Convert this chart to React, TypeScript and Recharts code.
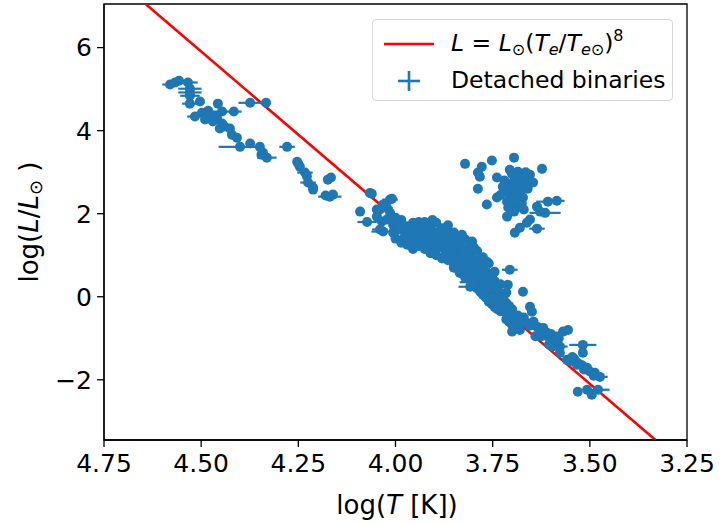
import React from "react";
import {
  ScatterChart,
  Scatter,
  XAxis,
  YAxis,
  ErrorBar,
  ReferenceLine,
  ReferenceArea,
  Label,
} from "recharts";

// [log T, log L, error in log T]
type Star = [number, number, number];

const hotBranch: Star[] = [
  [4.580, 5.11, 0.02], [4.567, 5.16, 0.01], [4.557, 5.20, 0.01], [4.534, 5.16, 0.025],
  [4.529, 5.01, 0.03], [4.529, 4.92, 0.03], [4.529, 4.84, 0.025], [4.503, 4.70, 0.01],
  [4.529, 4.65, 0.02], [4.457, 4.65, 0.01], [4.482, 4.48, 0.01], [4.446, 4.46, 0.05],
  [4.416, 4.46, 0.01], [4.498, 4.43, 0.01], [4.516, 4.34, 0.02], [4.480, 4.34, 0.01],
  [4.459, 4.29, 0.01], [4.490, 4.27, 0.01], [4.446, 4.17, 0.01], [4.470, 4.22, 0.01],
  [4.452, 4.05, 0.01], [4.426, 4.05, 0.01], [4.421, 3.90, 0.01], [4.408, 3.83, 0.01],
  [4.374, 4.67, 0.03], [4.333, 4.67, 0.01], [4.400, 3.61, 0.055], [4.374, 3.69, 0.01],
  [4.349, 3.61, 0.01], [4.341, 3.47, 0.01], [4.331, 3.35, 0.025], [4.345, 3.42, 0.01],
  [4.279, 3.61, 0.02], [4.253, 3.25, 0.01], [4.246, 3.13, 0.01], [4.233, 2.99, 0.02],
  [4.225, 2.75, 0.02], [4.212, 2.63, 0.01], [4.228, 2.90, 0.01], [4.174, 2.82, 0.01],
  [4.166, 2.87, 0.01], [4.169, 2.41, 0.03], [4.161, 2.46, 0.01], [4.180, 2.44, 0.01],
  [4.250, 3.20, 0.01], [4.212, 2.58, 0.01], [4.440, 4.10, 0.01], [4.462, 4.36, 0.01],
];

const upperMainSeq: Star[] = [
  [4.066, 2.50, 0.01], [4.061, 2.48, 0.01], [4.014, 2.34, 0.02], [4.009, 2.36, 0.01],
  [4.032, 2.22, 0.01], [4.048, 2.10, 0.01], [4.022, 2.14, 0.015], [4.014, 2.02, 0.01],
  [4.091, 2.05, 0.01], [4.040, 2.10, 0.02], [4.048, 1.93, 0.01], [4.073, 1.80, 0.025],
  [4.035, 1.81, 0.01], [4.022, 1.86, 0.01], [4.006, 1.73, 0.01], [4.032, 1.57, 0.03],
  [4.006, 1.54, 0.01], [3.996, 1.60, 0.01], [4.040, 1.62, 0.02], [4.000, 1.90, 0.01],
];

const coreMainSeq: Star[] = [
  [4.000, 1.75, 0.01], [4.000, 1.40, 0.01], [3.985, 1.85, 0.01], [3.985, 1.62, 0.03],
  [3.985, 1.30, 0.01], [3.970, 1.70, 0.01], [3.970, 1.50, 0.01], [3.970, 1.25, 0.01],
  [3.955, 1.78, 0.01], [3.955, 1.55, 0.01], [3.955, 1.35, 0.02], [3.955, 1.15, 0.01],
  [3.940, 1.68, 0.01], [3.940, 1.45, 0.01], [3.940, 1.22, 0.01], [3.925, 1.80, 0.02],
  [3.925, 1.58, 0.01], [3.925, 1.35, 0.01], [3.925, 1.15, 0.01], [3.910, 1.70, 0.01],
  [3.910, 1.48, 0.01], [3.910, 1.25, 0.01], [3.910, 1.05, 0.01], [3.895, 1.78, 0.01],
  [3.895, 1.55, 0.01], [3.895, 1.32, 0.01], [3.895, 1.00, 0.01], [3.880, 1.65, 0.01],
  [3.880, 1.42, 0.01], [3.880, 1.18, 0.01], [3.880, 0.92, 0.01], [3.865, 1.72, 0.01],
  [3.865, 1.50, 0.01], [3.865, 1.28, 0.01], [3.865, 1.05, 0.01], [3.865, 0.88, 0.01],
  [3.850, 1.55, 0.01], [3.850, 1.35, 0.01], [3.850, 1.10, 0.01], [3.850, 0.85, 0.01],
  [3.850, 0.70, 0.01], [3.835, 1.45, 0.01], [3.835, 1.22, 0.01], [3.835, 1.00, 0.01],
  [3.835, 0.75, 0.01], [3.835, 0.58, 0.01], [3.820, 1.38, 0.01], [3.820, 1.15, 0.01],
  [3.820, 0.92, 0.01], [3.820, 0.68, 0.01], [3.820, 0.45, 0.01], [3.805, 1.30, 0.01],
  [3.805, 1.05, 0.01], [3.805, 0.82, 0.01], [3.805, 0.58, 0.01], [3.805, 0.35, 0.03],
  [3.790, 1.10, 0.01], [3.790, 0.88, 0.01], [3.790, 0.65, 0.01], [3.790, 0.42, 0.01],
  [3.790, 0.20, 0.01], [3.775, 0.95, 0.01], [3.775, 0.72, 0.01], [3.775, 0.50, 0.01],
  [3.775, 0.28, 0.01], [3.775, 0.05, 0.01], [3.760, 0.80, 0.01], [3.760, 0.55, 0.01],
  [3.760, 0.32, 0.01], [3.760, 0.10, 0.01], [3.760, -0.12, 0.01], [3.745, 0.60, 0.01],
  [3.745, 0.38, 0.01], [3.745, 0.15, 0.01], [3.745, -0.08, 0.01], [3.745, -0.25, 0.01],
  [3.730, 0.30, 0.01], [3.730, 0.08, 0.01], [3.730, -0.15, 0.01], [3.730, -0.35, 0.01],
  [3.715, 0.10, 0.01], [3.715, -0.15, 0.01], [3.715, -0.40, 0.01], [3.715, -0.55, 0.01],
  [3.700, -0.30, 0.01], [3.700, -0.50, 0.01], [3.700, -0.68, 0.01], [3.685, -0.45, 0.01],
  [3.685, -0.62, 0.01], [3.855, 1.49, 0.01], [3.829, 1.49, 0.01], [3.803, 1.33, 0.01],
  [3.706, 0.65, 0.02], [3.711, 0.29, 0.01], [3.672, 0.12, 0.01], [3.765, 0.84, 0.01],
  [3.960, 1.57, 0.03], [3.808, 0.24, 0.03],
];

// extra stars packed between the rows above
const coreFill: Star[] = [
  [3.992, 1.65, 0.01], [3.978, 1.42, 0.01], [3.962, 1.68, 0.01], [3.948, 1.30, 0.01],
  [3.932, 1.50, 0.01], [3.918, 1.62, 0.01], [3.918, 1.36, 0.01], [3.902, 1.12, 0.01],
  [3.888, 1.50, 0.01], [3.888, 1.28, 0.01], [3.872, 1.60, 0.01], [3.872, 1.00, 0.01],
  [3.858, 1.20, 0.01], [3.858, 0.95, 0.01], [3.842, 1.30, 0.01], [3.842, 0.88, 0.01],
  [3.828, 1.08, 0.01], [3.828, 0.80, 0.01], [3.828, 0.55, 0.01], [3.812, 0.95, 0.01],
  [3.812, 0.70, 0.01], [3.812, 0.48, 0.01], [3.798, 1.18, 0.01], [3.798, 0.75, 0.01],
  [3.798, 0.30, 0.01], [3.782, 0.82, 0.01], [3.782, 0.58, 0.01], [3.782, 0.12, 0.01],
  [3.768, 0.62, 0.01], [3.768, 0.40, 0.01], [3.768, -0.02, 0.01], [3.752, 0.48, 0.01],
  [3.752, 0.22, 0.01], [3.752, -0.18, 0.01], [3.738, 0.20, 0.01], [3.738, -0.02, 0.01],
  [3.738, -0.30, 0.01], [3.722, 0.00, 0.01], [3.722, -0.28, 0.01], [3.708, -0.22, 0.01],
  [3.708, -0.60, 0.01], [3.692, -0.55, 0.01], [3.940, 1.80, 0.01], [3.905, 1.85, 0.01],
];

const lowerMainSeq: Star[] = [
  [3.654, -0.24, 0.01], [3.649, -0.36, 0.01], [3.662, -0.63, 0.01], [3.636, -0.72, 0.01],
  [3.621, -0.87, 0.01], [3.597, -1.04, 0.01], [3.569, -0.84, 0.01], [3.556, -0.80, 0.01],
  [3.577, -1.20, 0.02], [3.559, -1.52, 0.01], [3.518, -1.16, 0.035], [3.518, -1.35, 0.01],
  [3.533, -1.64, 0.01], [3.507, -1.71, 0.01], [3.487, -1.83, 0.01], [3.474, -1.93, 0.02],
  [3.531, -2.29, 0.01], [3.507, -2.24, 0.01], [3.495, -2.36, 0.01], [3.479, -2.24, 0.03],
  [3.687, -0.63, 0.01], [3.700, -0.84, 0.01], [3.680, -0.80, 0.01], [3.610, -0.87, 0.01],
  [3.585, -0.96, 0.01], [3.595, -1.20, 0.01], [3.577, -1.35, 0.01], [3.630, -0.80, 0.01],
  [3.610, -0.95, 0.01], [3.600, -0.90, 0.01], [3.590, -1.10, 0.01], [3.580, -1.00, 0.01],
  [3.620, -0.75, 0.01], [3.645, -0.60, 0.01], [3.655, -0.70, 0.01], [3.625, -0.95, 0.01],
  [3.605, -1.15, 0.01], [3.550, -1.55, 0.01], [3.540, -1.50, 0.01], [3.530, -1.60, 0.01],
  [3.520, -1.65, 0.01], [3.515, -1.75, 0.01], [3.500, -1.80, 0.01], [3.490, -1.90, 0.01],
  [3.545, -1.45, 0.01], [3.670, -0.50, 0.01], [3.640, -0.95, 0.01],
];

const giants: Star[] = [
  [3.821, 3.20, 0.01], [3.778, 3.13, 0.01], [3.752, 3.28, 0.01], [3.695, 3.35, 0.01],
  [3.788, 2.99, 0.01], [3.783, 2.89, 0.01], [3.739, 2.87, 0.01], [3.706, 3.06, 0.01],
  [3.685, 3.01, 0.01], [3.654, 2.94, 0.01], [3.623, 3.08, 0.01], [3.698, 2.75, 0.01],
  [3.662, 2.77, 0.01], [3.646, 2.75, 0.01], [3.788, 2.60, 0.01], [3.724, 2.65, 0.01],
  [3.739, 2.39, 0.01], [3.765, 2.22, 0.01], [3.706, 2.46, 0.01], [3.687, 2.51, 0.01],
  [3.672, 2.39, 0.01], [3.713, 2.29, 0.01], [3.698, 2.22, 0.01], [3.680, 2.17, 0.01],
  [3.713, 1.93, 0.01], [3.636, 2.17, 0.01], [3.608, 2.29, 0.03], [3.585, 2.31, 0.02],
  [3.628, 2.05, 0.01], [3.615, 2.02, 0.04], [3.654, 1.86, 0.01], [3.662, 1.78, 0.01],
  [3.680, 1.66, 0.01], [3.693, 1.54, 0.01], [3.636, 1.64, 0.02], [3.720, 2.55, 0.01],
  [3.710, 2.70, 0.01], [3.700, 2.60, 0.01], [3.690, 2.85, 0.01], [3.680, 2.70, 0.01],
  [3.675, 2.90, 0.01], [3.665, 3.00, 0.01], [3.730, 2.45, 0.01], [3.720, 2.80, 0.01],
  [3.700, 2.95, 0.01], [3.690, 2.40, 0.01], [3.680, 2.55, 0.01], [3.660, 2.60, 0.01],
  [3.700, 2.35, 0.01], [3.710, 2.15, 0.01], [3.695, 2.05, 0.01], [3.675, 2.25, 0.01],
  [3.670, 2.10, 0.01],
];

// L = Lsun (Te/Tesun)^8 drawn between the plot edges
const modelLogT = [4.643, 3.331];
const modelLogL = [7.05, -3.45];

const xTicks = [4.75, 4.5, 4.25, 4.0, 3.75, 3.5, 3.25];
const yTicks = [-2, 0, 2, 4, 6];

const BLUE = "#1f77b4";
const RED = "#ff0000";
const FONT = "'DejaVu Sans', sans-serif";

const stars = [...hotBranch, ...upperMainSeq, ...coreMainSeq, ...coreFill, ...lowerMainSeq, ...giants].map(
  ([logT, logL, errT]) => ({ logT, logL, errT })
);

const tickStyle = { fontSize: 25, fill: "#000", fontFamily: FONT };

const Dot = (props: any) => <circle cx={props.cx} cy={props.cy} r={5} fill={BLUE} />;

function YTitle() {
  return (
    <text
      x={38}
      y={222}
      transform="rotate(-90 38 222)"
      textAnchor="middle"
      fontSize={26}
      fontFamily={FONT}
      fill="#000"
    >
      log(<tspan fontStyle="italic">L</tspan>/<tspan fontStyle="italic">L</tspan>
      <tspan fontSize={18} dy={4}>⊙</tspan>
      <tspan dy={-4}> )</tspan>
    </text>
  );
}

function XTitle() {
  return (
    <text x={397} y={514} textAnchor="middle" fontSize={26} fontFamily={FONT} fill="#000">
      log(<tspan fontStyle="italic">T</tspan> [K])
    </text>
  );
}

function LegendBox() {
  return (
    <div
      style={{
        position: "absolute",
        left: 372,
        top: 19,
        width: 301,
        height: 82,
        boxSizing: "border-box",
        border: "1px solid #d6d6d6",
        borderRadius: 4,
        background: "rgba(255,255,255,0.8)",
        fontFamily: FONT,
        fontSize: 23.5,
        color: "#000",
      }}
    >
      <svg width={301} height={82} style={{ position: "absolute", left: 0, top: 0 }}>
        <line x1={11} x2={61} y1={24} y2={24} stroke={RED} strokeWidth={2.6} />
        <line x1={25} x2={47} y1={61} y2={61} stroke={BLUE} strokeWidth={2.6} />
        <line x1={36} x2={36} y1={51} y2={71} stroke={BLUE} strokeWidth={2.6} />
      </svg>
      <div style={{ position: "absolute", left: 78, top: 8, whiteSpace: "nowrap", lineHeight: "30px" }}>
        <i>L</i> = <i>L</i>
        <span style={{ fontSize: 16, position: "relative", top: 4 }}>⊙</span>(<i>T</i>
        <span style={{ fontSize: 16, position: "relative", top: 4 }}><i>e</i></span>/<i>T</i>
        <span style={{ fontSize: 16, position: "relative", top: 4 }}><i>e</i>⊙</span>)
        <span style={{ fontSize: 16, position: "relative", top: -10 }}>8</span>
      </div>
      <div style={{ position: "absolute", left: 78, top: 45, whiteSpace: "nowrap", lineHeight: "30px" }}>
        Detached binaries
      </div>
    </div>
  );
}

export default function App() {
  return (
    <div style={{ position: "absolute", left: 0, top: 0, width: 721, height: 523, background: "#fff" }}>
      <ScatterChart width={721} height={523} margin={{ top: 4, right: 34, bottom: 0, left: 0 }}>
        <XAxis
          type="number"
          dataKey="logT"
          domain={[3.25, 4.75]}
          reversed
          allowDataOverflow
          ticks={xTicks}
          tickFormatter={(v: number) => v.toFixed(2)}
          height={83}
          tick={tickStyle}
          tickSize={7}
          tickMargin={7}
          stroke="#000"
          strokeWidth={1.3}
        >
          <Label content={() => <XTitle />} />
        </XAxis>
        <YAxis
          type="number"
          dataKey="logL"
          domain={[-3.45, 7.05]}
          allowDataOverflow
          ticks={yTicks}
          tickFormatter={(v: number) => (v < 0 ? `\u2212${Math.abs(v)}` : `${v}`)}
          width={104}
          tick={tickStyle}
          tickSize={7}
          tickMargin={5}
          stroke="#000"
          strokeWidth={1.3}
        >
          <Label content={() => <YTitle />} />
        </YAxis>
        <ReferenceArea
          x1={4.75}
          x2={3.25}
          y1={-3.45}
          y2={7.05}
          fill="none"
          stroke="#000"
          strokeWidth={1.3}
          ifOverflow="visible"
        />
        <ReferenceLine
          segment={[
            { x: modelLogT[0], y: modelLogL[0] },
            { x: modelLogT[1], y: modelLogL[1] },
          ]}
          stroke={RED}
          strokeWidth={2.6}
          ifOverflow="visible"
        />
        <Scatter data={stars} shape={Dot} isAnimationActive={false}>
          <ErrorBar dataKey="errT" direction="x" width={0} stroke={BLUE} strokeWidth={2.2} />
        </Scatter>
      </ScatterChart>
      <LegendBox />
    </div>
  );
}
